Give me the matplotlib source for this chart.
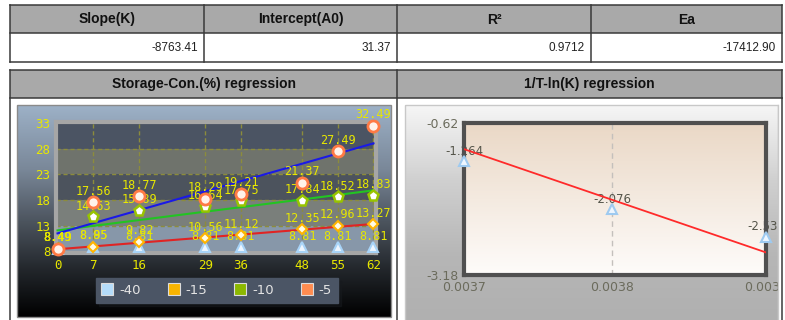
import numpy as np
import matplotlib
matplotlib.use("Agg")
import matplotlib.pyplot as plt
from matplotlib.patches import Rectangle
from matplotlib.lines import Line2D
from matplotlib.colors import LinearSegmentedColormap
from matplotlib import font_manager

# summary table
summary_cols = ["Slope(K)", "Intercept(A0)", "R²", "Ea"]
summary_vals = ["-8763.41", "31.37", "0.9712", "-17412.90"]
panel_titles = ["Storage-Con.(%) regression", "1/T-ln(K) regression"]

# storage - concentration chart
days = [0, 7, 16, 29, 36, 48, 55, 62]
series_names = ["-40", "-15", "-10", "-5"]
con_m40 = [8.49, 8.85, 8.81, 8.81, 8.81, 8.81, 8.81, 8.81]
con_m15 = [8.49, 8.95, 9.82, 10.56, 11.12, 12.35, 12.96, 13.27]
con_m10 = [8.49, 14.63, 15.89, 16.64, 17.75, 17.84, 18.52, 18.83]
con_m5 = [8.49, 17.56, 18.77, 18.29, 19.21, 21.37, 27.49, 32.49]
con_ticks = [8, 13, 18, 23, 28, 33]

# 1/T - ln(K) chart
inv_t = [0.003729, 0.003800, 0.003874]
ln_k = [-1.264, -2.076, -2.534]
fit_ln_k = [-1.06, -2.80]       # line as drawn in the picture, at both ends
lnk_ticks = [-3.18, -0.62]

W, H = 785, 320
names = {f.name for f in font_manager.fontManager.ttflist}
narrow = "Liberation Sans Narrow" if "Liberation Sans Narrow" in names else "Liberation Sans"
val_size = 9.5 if narrow == "Liberation Sans Narrow" else 8.5

fig = plt.figure(figsize=(W / 100, H / 100), dpi=100)
fig.patch.set_facecolor("white")

bg = fig.add_axes([0, 0, 1, 1], zorder=0)
bg.axis("off")


def px_axes(x0, y0, x1, y1, **kw):
    return fig.add_axes([x0 / W, 1 - y1 / H, (x1 - x0) / W, (y1 - y0) / H], **kw)


def vgrad(ax, ext, stops, colors, z=0):
    cmap = LinearSegmentedColormap.from_list("g", list(zip(stops, colors)))
    grad = np.linspace(0, 1, 256).reshape(-1, 1)
    ax.imshow(grad, cmap=cmap, extent=ext, aspect="auto",
              interpolation="bilinear", zorder=z)


line_c = "#3a3a3a"

# ---- top table
cols = [10, 204, 397, 591, 782]
bg.add_patch(Rectangle((10, 5), 772, 28, fc="#a9a9a9", ec="none"))
for x in cols:
    bg.plot([x, x], [5, 62], color=line_c, lw=1.1)
for y in [5, 33, 62]:
    bg.plot([10, 782], [y, y], color=line_c, lw=1.1)
for i in range(4):
    bg.text((cols[i] + cols[i + 1]) / 2, 19.5, summary_cols[i], ha="center", va="center",
            fontsize=10, fontweight="bold", family="Liberation Sans", color="#111111")
    bg.text(cols[i + 1] - 6, 48, summary_vals[i], ha="right", va="center",
            fontsize=val_size, family=narrow, color="#222222")

# ---- second table
cols2 = [10, 397, 782]
bg.add_patch(Rectangle((10, 69.5), 772, 28.5, fc="#a9a9a9", ec="none"))
for x in cols2:
    bg.plot([x, x], [69.5, 320], color=line_c, lw=1.1)
for y in [69.5, 98]:
    bg.plot([10, 782], [y, y], color=line_c, lw=1.1)
for i in range(2):
    bg.text((cols2[i] + cols2[i + 1]) / 2, 84, panel_titles[i], ha="center", va="center",
            fontsize=10, fontweight="bold", family="Liberation Sans", color="#111111")

# panel backgrounds
vgrad(bg, [17, 391, 317, 105], [0, 0.3, 0.55, 0.78, 1],
      ["#9db1c7", "#7a8899", "#4c545e", "#22262b", "#000000"])
bg.add_patch(Rectangle((17, 105), 374, 212, fc="none", ec="#8a8a8a", lw=1))
vgrad(bg, [405, 778, 320, 105], [0, 0.35, 0.7, 1],
      ["#f6f6f6", "#d0d0d0", "#b6b6b6", "#b0b0b0"])
bg.add_patch(Rectangle((405, 105), 373, 220, fc="none", ec="#c8c8c8", lw=1))
bg.set_xlim(0, W)
bg.set_ylim(H, 0)

# ---- left chart
ax1 = px_axes(56, 122, 376, 253, zorder=1)
ax1.set_xlim(-0.3, 62.5)
ax1.set_ylim(7.7, 33.2)
band_cols = ["#8797a9", "#7a7f7b", "#4c535d", "#6f736c", "#4b5463"]
edges = [7.7, 13, 18, 23, 28, 33.2]
for k in range(5):
    ax1.axhspan(edges[k], edges[k + 1], color=band_cols[k], zorder=0, lw=0)
for v in con_ticks[1:-1]:
    ax1.axhline(v, color="#8c8c3c", lw=1, ls=(0, (3, 2)), zorder=1)
for d in days[1:]:
    ax1.axvline(d, color="#8c8c3c", lw=1, ls=(0, (3, 2)), zorder=1)

mono = "DejaVu Sans Mono"
yellow = "#e8e800"
fits = [(con_m15, "#e02424"), (con_m10, "#22c422"), (con_m5, "#1a1ae6")]
for vals, c in fits:
    k, b = np.polyfit(days, vals, 1)
    xs = np.array([days[0], days[-1]])
    ax1.plot(xs, k * xs + b, color=c, lw=1.5, zorder=3)

styles = [
    (con_m40, dict(marker="^", ms=7, mfc="#eef6ff", mec="#a8d4f8", mew=1.5)),
    (con_m15, dict(marker="D", ms=5.5, mfc="#fffbe6", mec="#ffb400", mew=1.5)),
    (con_m10, dict(marker="p", ms=8, mfc="#ffffff", mec="#98c400", mew=1.8)),
    (con_m5, dict(marker="o", ms=8, mfc="#fff2ea", mec="#ff7a45", mew=2)),
]
for vals, st in styles:
    ax1.plot(days, vals, ls="none", zorder=5, clip_on=False, **st)
    for d, v in zip(days, vals):
        ax1.annotate(f"{v:.2f}", (d, v), xytext=(0, 8), textcoords="offset points",
                     ha="center", va="center", fontsize=8.5, family=mono,
                     color=yellow, zorder=4, annotation_clip=False)

ax1.set_xticks(days)
ax1.set_yticks(con_ticks)
ax1.tick_params(length=0, labelsize=9, labelcolor=yellow, pad=4)
for lbl in ax1.get_xticklabels() + ax1.get_yticklabels():
    lbl.set_family(mono)
for s in ax1.spines.values():
    s.set_color("#a6a6a6")
    s.set_linewidth(3)

leg_cols = ["#b4dcfa", "#f8b400", "#8cb800", "#ff8c50"]
handles = [Line2D([], [], marker="s", ls="none", ms=8, mfc=c, mec="#dcdcdc", mew=0.8)
           for c in leg_cols]
leg = fig.legend(handles, series_names, loc="center", bbox_to_anchor=(217 / W, 1 - 290.5 / H),
                 ncol=4, fontsize=9.5, frameon=True, facecolor="#4b5565", edgecolor="#4b5565",
                 framealpha=1, fancybox=False, shadow=True, handlelength=0.8,
                 handletextpad=0.5, columnspacing=2.1, borderpad=0.45)
for t in leg.get_texts():
    t.set_color("#e4e4e4")

# ---- right chart
ax2 = px_axes(464, 123, 766, 275, zorder=1)
ax2.set_xlim(inv_t[0], inv_t[-1])
ax2.set_ylim(lnk_ticks[0], lnk_ticks[1])
vgrad(ax2, [inv_t[0], inv_t[-1], lnk_ticks[0], lnk_ticks[1]], [0, 1],
      ["#ead8c6", "#fefcfa"], z=0)
ax2.set_xlim(inv_t[0], inv_t[-1])
ax2.set_ylim(lnk_ticks[0], lnk_ticks[1])
ax2.axvline(inv_t[1], color="#c4c0bc", lw=1, ls=(0, (4, 3)), zorder=1)
ax2.plot([inv_t[0], inv_t[-1]], fit_ln_k, color="#ff2a2a", lw=1.3, zorder=3)
ax2.plot(inv_t, ln_k, ls="none", marker="^", ms=7, mfc="#eef6ff", mec="#9ecaf0",
         mew=1.5, zorder=4, clip_on=False)
for x, v in zip(inv_t, ln_k):
    ax2.annotate(f"{v:.3f}", (x, v), xytext=(0, 7), textcoords="offset points",
                 ha="center", va="center", fontsize=8.5, color="#55554a",
                 zorder=2, annotation_clip=False)
ax2.set_xticks(inv_t)
ax2.set_xticklabels([f"{v:.4f}" for v in inv_t])
ax2.set_yticks(lnk_ticks)
ax2.set_yticklabels([f"{v:.2f}" for v in lnk_ticks])
ax2.tick_params(length=0, labelsize=9, labelcolor="#6b6b5c", pad=4)
for s in ax2.spines.values():
    s.set_color("#505050")
    s.set_linewidth(3)

# ---- overlay: clip what runs past the right panel
ov = fig.add_axes([0, 0, 1, 1], zorder=3)
ov.axis("off")
ov.patch.set_alpha(0)
ov.add_patch(Rectangle((778.5, 99), 10, 230, fc="white", ec="none"))
ov.plot([778, 778], [105, 320], color="#c8c8c8", lw=1)
ov.plot([782, 782], [98, 320], color=line_c, lw=1.1)
ov.set_xlim(0, W)
ov.set_ylim(H, 0)

fig.savefig("out.png", dpi=100)
